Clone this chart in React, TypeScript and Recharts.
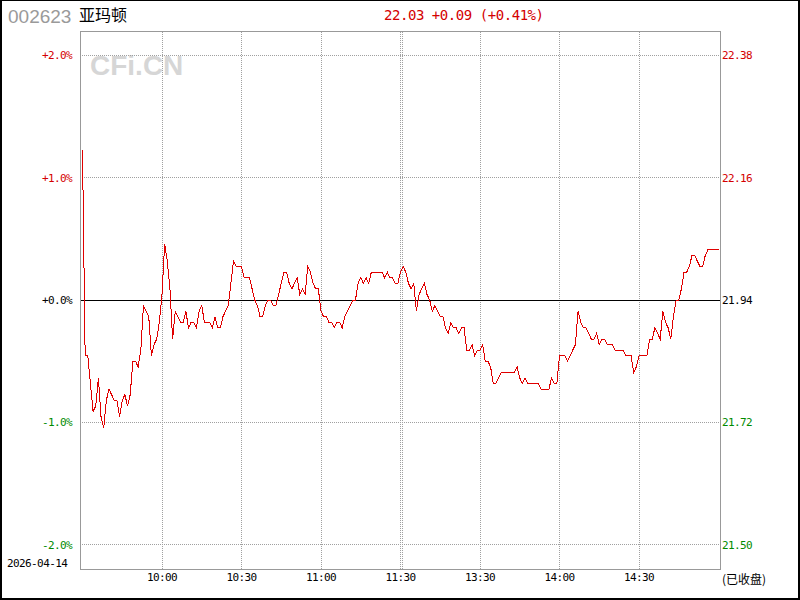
import React from 'react';
import { LineChart, Line, XAxis, YAxis, ReferenceLine } from 'recharts';

const stockCode = '002623';
const stockName = '亚玛顿';
const tradeDate = '2026-04-14';
const statusText = '(已收盘)';
const prevClose = 21.94;

const pctTicks = [2, 1, 0, -1, -2];
const gridPct = [2, 1, -1, -2];
const timeTicks = [30, 60, 90, 120, 150, 180, 210];
const timeLabels = ['10:00', '10:30', '11:00', '11:30', '13:30', '14:00', '14:30'];
// 11:30 and 13:00 sit side by side, so the lunch break gets two dotted lines
const gridMinutes = [30, 60, 90, 120, 120.6, 150, 180, 210];

// one price per minute, 9:30 .. 11:30 then 13:00 .. 15:00
const prices = [
  22.21, 21.84, 21.84, 21.79, 21.74, 21.75, 21.80, 21.73, 21.71, 21.76,
  21.78, 21.77, 21.76, 21.76, 21.73, 21.76, 21.77, 21.75, 21.77, 21.83,
  21.83, 21.82, 21.85, 21.93, 21.92, 21.91, 21.84, 21.86, 21.87, 21.90,
  21.95, 22.04, 22.01, 21.96, 21.87, 21.92, 21.91, 21.90, 21.90, 21.92,
  21.89, 21.90, 21.90, 21.89, 21.92, 21.93, 21.90, 21.90, 21.90, 21.89,
  21.91, 21.89, 21.89, 21.91, 21.92, 21.93, 21.97, 22.01, 22.00, 22.00,
  22.00, 21.98, 21.98, 21.98, 21.96, 21.94, 21.93, 21.91, 21.91, 21.93,
  21.94, 21.94, 21.93, 21.93, 21.95, 21.97, 21.99, 21.99, 21.97, 21.96,
  21.97, 21.98, 21.95, 21.96, 21.95, 22.00, 21.99, 21.97, 21.96, 21.96,
  21.92, 21.91, 21.91, 21.90, 21.90, 21.89, 21.90, 21.90, 21.89, 21.91,
  21.92, 21.93, 21.94, 21.94, 21.97, 21.98, 21.97, 21.98, 21.97, 21.99,
  21.99, 21.99, 21.99, 21.99, 21.98, 21.99, 21.98, 21.98, 21.97, 21.97,
  21.99, 22.00, 21.99, 21.97, 21.96, 21.97, 21.92, 21.95, 21.96, 21.97,
  21.95, 21.94, 21.92, 21.93, 21.92, 21.91, 21.91, 21.89, 21.88, 21.90,
  21.89, 21.89, 21.88, 21.89, 21.89, 21.85, 21.85, 21.86, 21.84, 21.85,
  21.85, 21.86, 21.83, 21.83, 21.82, 21.79, 21.79, 21.80, 21.81, 21.81,
  21.81, 21.81, 21.81, 21.81, 21.82, 21.80, 21.79, 21.80, 21.79, 21.79,
  21.79, 21.79, 21.79, 21.78, 21.78, 21.78, 21.78, 21.80, 21.79, 21.79,
  21.84, 21.84, 21.84, 21.83, 21.84, 21.85, 21.86, 21.92, 21.90, 21.89,
  21.89, 21.88, 21.87, 21.87, 21.88, 21.86, 21.87, 21.87, 21.86, 21.86,
  21.86, 21.85, 21.85, 21.85, 21.85, 21.84, 21.84, 21.84, 21.81, 21.82,
  21.84, 21.84, 21.84, 21.84, 21.87, 21.87, 21.89, 21.88, 21.87, 21.92,
  21.90, 21.89, 21.87, 21.91, 21.94, 21.94, 21.96, 21.99, 21.99, 22.00,
  22.02, 22.02, 22.01, 22.00, 22.00, 22.02, 22.03, 22.03, 22.03, 22.03,
  22.03,
];

const MONO = '"DejaVu Sans Mono", monospace';
const CJK = '"Noto Sans CJK SC", sans-serif';
const SANS = '"Liberation Sans", Arial, sans-serif';
const UP = '#d40000';
const DOWN = '#008a00';
const GRID = '#a0a0a0';

const data = prices.map((p, i) => ({ m: i, pct: ((p - prevClose) / prevClose) * 100 }));

const lastPrice = prices[prices.length - 1];
const change = lastPrice - prevClose;
const changePct = (change / prevClose) * 100;
const sign = (v: number) => (v >= 0 ? '+' : '-');
const headline = `${lastPrice.toFixed(2)} ${sign(change)}${Math.abs(change).toFixed(2)} (${sign(changePct)}${Math.abs(changePct).toFixed(2)}%)`;

const tickColor = (v: number) => (v > 0 ? UP : v < 0 ? DOWN : '#000');

// small labels imitate a 6px-per-char bitmap font
const small = { fontSize: 11, fontFamily: MONO, letterSpacing: -0.6 };

const PctTick = ({ x, y, payload }: any) => (
  <text x={x} y={y} dy="0.36em" textAnchor="end" {...small} fill={tickColor(payload.value)}>
    {`${sign(payload.value)}${Math.abs(payload.value).toFixed(1)}%`}
  </text>
);

const PriceTick = ({ x, y, payload }: any) => (
  <text x={x} y={y} dy="0.36em" textAnchor="start" {...small} fill={tickColor(payload.value)}>
    {(prevClose * (1 + payload.value / 100)).toFixed(2)}
  </text>
);

const TimeTick = ({ x, y, payload }: any) => (
  <text x={x} y={y} dy="0.36em" textAnchor="middle" {...small} fill="#000">
    {timeLabels[timeTicks.indexOf(payload.value)]}
  </text>
);

const App = () => {
  return (
    <div style={{ position: 'fixed', left: 0, top: 0, width: 800, height: 600, background: '#fff', overflow: 'hidden' }}>
      {/* watermark sits under the chart */}
      <svg width={800} height={600} style={{ position: 'absolute', left: 0, top: 0 }}>
        <text x={90} y={75} fontSize={28} fontWeight="bold" fontFamily={SANS} fill="#d6d6d6">CFi.CN</text>
      </svg>

      <div style={{ position: 'absolute', left: 0, top: 0, shapeRendering: 'crispEdges' }}>
        <LineChart width={800} height={600} data={data} margin={{ top: 31, right: 0, bottom: 0, left: 0 }}>
          <XAxis
            dataKey="m"
            type="number"
            domain={[0, 240]}
            ticks={timeTicks}
            interval={0}
            padding={{ left: 2.5, right: 1.5 }}
            height={31}
            axisLine={false}
            tickLine={false}
            tickSize={0}
            tickMargin={8}
            tick={<TimeTick />}
          />
          <YAxis
            yAxisId="pct"
            type="number"
            domain={[-2.2, 2.2]}
            allowDataOverflow
            ticks={pctTicks}
            interval={0}
            width={80}
            axisLine={false}
            tickLine={false}
            tickSize={0}
            tickMargin={8}
            tick={<PctTick />}
          />
          <YAxis
            yAxisId="price"
            orientation="right"
            type="number"
            domain={[-2.2, 2.2]}
            allowDataOverflow
            ticks={pctTicks}
            interval={0}
            width={80}
            axisLine={false}
            tickLine={false}
            tickSize={0}
            tickMargin={2}
            tick={<PriceTick />}
          />
          {gridPct.map((v) => (
            <ReferenceLine key={`h${v}`} yAxisId="pct" y={v} stroke={GRID} strokeDasharray="1 1" />
          ))}
          {gridMinutes.map((v) => (
            <ReferenceLine key={`v${v}`} yAxisId="pct" x={v} stroke={GRID} strokeDasharray="1 1" />
          ))}
          <ReferenceLine yAxisId="pct" y={0} stroke="#000" strokeWidth={1} />
          <Line
            yAxisId="pct"
            type="linear"
            dataKey="pct"
            stroke="#e00000"
            strokeWidth={1}
            dot={false}
            activeDot={false}
            isAnimationActive={false}
          />
        </LineChart>
      </div>

      {/* plot frame, header and footer texts */}
      <div style={{ position: 'absolute', left: 80, top: 31, width: 641, height: 539, boxSizing: 'border-box', border: '1px solid #999' }} />
      <svg width={800} height={600} style={{ position: 'absolute', left: 0, top: 0 }}>
        <text x={8} y={23} fontSize={19} fontFamily={SANS} fill="#9a9a9a">{stockCode}</text>
        <text x={79} y={20.5} fontSize={16} fontFamily={CJK} fill="#000">{stockName}</text>
        <text x={384} y={20} fontSize={14} letterSpacing={-0.45} fontFamily={MONO} fill={UP}>{headline}</text>
        <text x={7} y={567} {...small} fill="#000">{tradeDate}</text>
        <text x={722} y={584} fontSize={12} fontFamily={CJK} fill="#000">{statusText}</text>
      </svg>
      <div
        style={{
          position: 'absolute', left: 0, top: 0, width: 800, height: 600, boxSizing: 'border-box',
          borderStyle: 'solid', borderColor: '#000', borderWidth: '1px 2px 2px 2px',
        }}
      />
    </div>
  );
};

export default App;
